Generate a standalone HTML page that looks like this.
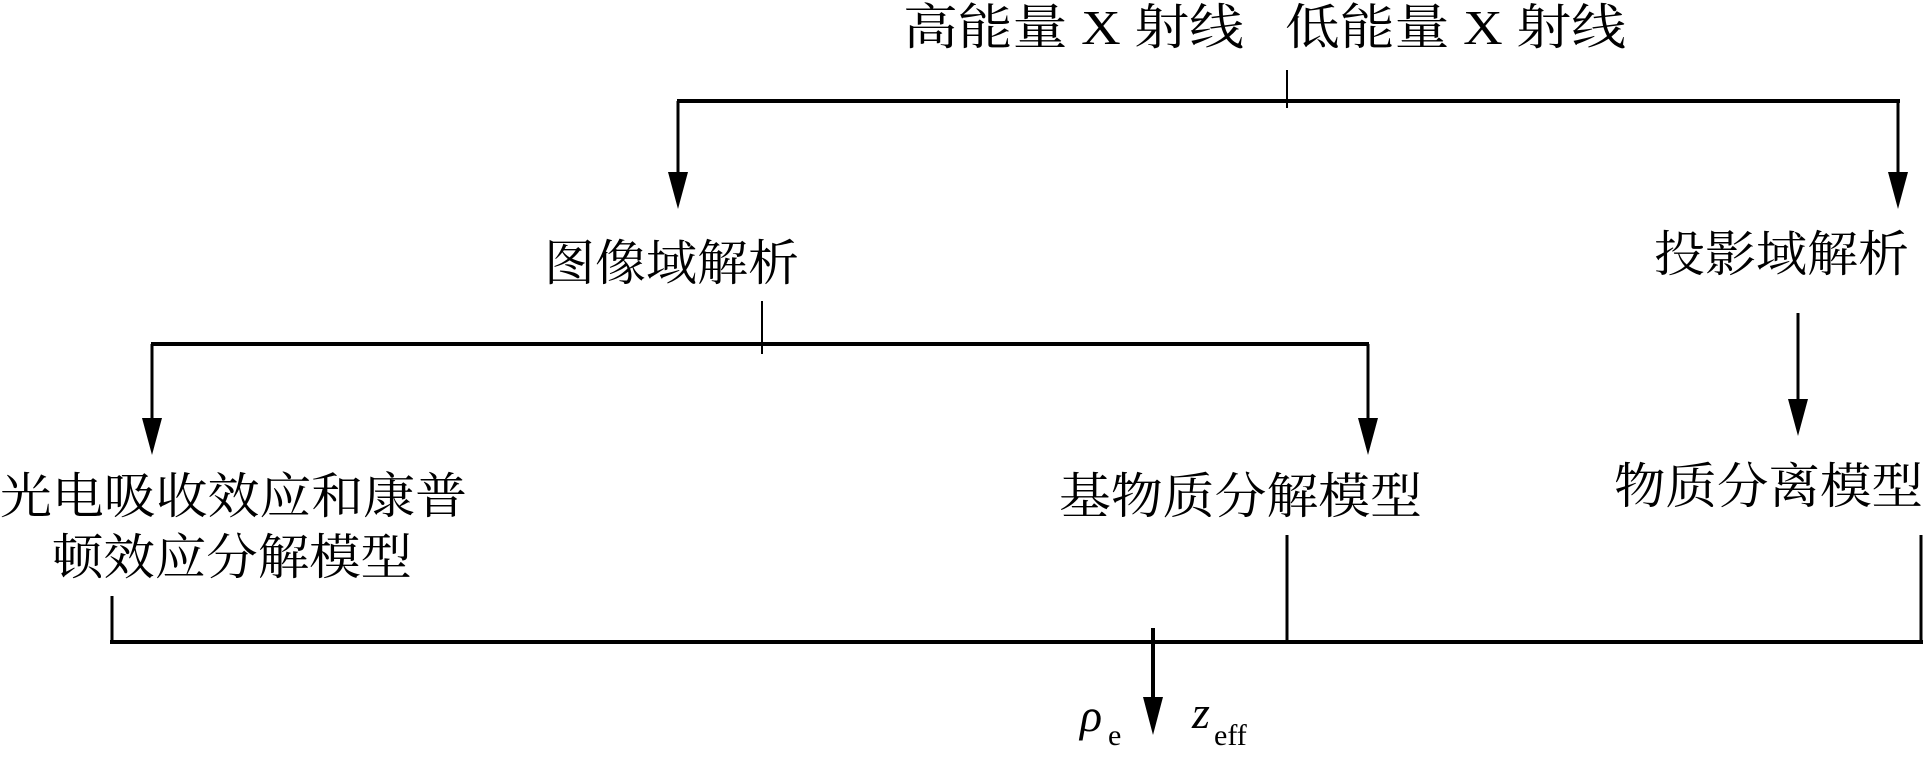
<!DOCTYPE html>
<html><head><meta charset="utf-8"><style>
html,body{margin:0;padding:0;background:#fff;}
svg{display:block;}
.t{font-family:"Liberation Serif","Noto Serif CJK SC","Noto Sans CJK SC",serif;font-size:49px;fill:#000;}
</style></head><body>
<svg width="1927" height="763" viewBox="0 0 1927 763" xmlns="http://www.w3.org/2000/svg">
<g stroke="#000" fill="none">
<line x1="1287" y1="70" x2="1287" y2="108" stroke-width="2"/>
<line x1="677" y1="101" x2="1900" y2="101" stroke-width="4"/>
<line x1="678" y1="101" x2="678" y2="175" stroke-width="3"/>
<line x1="1898" y1="101" x2="1898" y2="175" stroke-width="3"/>
<line x1="762" y1="301" x2="762" y2="354" stroke-width="2"/>
<line x1="151" y1="344" x2="1369" y2="344" stroke-width="4"/>
<line x1="152" y1="344" x2="152" y2="420" stroke-width="3"/>
<line x1="1368" y1="344" x2="1368" y2="420" stroke-width="3"/>
<line x1="1798" y1="313" x2="1798" y2="400" stroke-width="3"/>
<line x1="112" y1="596" x2="112" y2="643" stroke-width="3"/>
<line x1="1287" y1="535" x2="1287" y2="643" stroke-width="3"/>
<line x1="1921" y1="535" x2="1921" y2="643" stroke-width="3"/>
<line x1="110" y1="642" x2="1923" y2="642" stroke-width="4"/>
<line x1="1153" y1="628" x2="1153" y2="700" stroke-width="4"/>
</g>
<g fill="#000">
<polygon points="668,172 688,172 678,209"/>
<polygon points="1888,172 1908,172 1898,209"/>
<polygon points="142,418 162,418 152,455"/>
<polygon points="1358,418 1378,418 1368,455"/>
<polygon points="1788,399 1808,399 1798,436"/>
<polygon points="1143,697 1163,697 1153,735"/>
</g>
<text class="t" x="903" y="44" textLength="723" lengthAdjust="spacingAndGlyphs">高能量&#160;X&#160;射线&#160;&#160;&#160;低能量&#160;X&#160;射线</text>
<text class="t" x="544" y="280" textLength="255" lengthAdjust="spacingAndGlyphs">图像域解析</text>
<text class="t" x="1654" y="271" textLength="255" lengthAdjust="spacingAndGlyphs">投影域解析</text>
<text class="t" x="0" y="513" textLength="467" lengthAdjust="spacingAndGlyphs">光电吸收效应和康普</text>
<text class="t" x="52" y="574" textLength="360" lengthAdjust="spacingAndGlyphs">顿效应分解模型</text>
<text class="t" x="1059" y="513" textLength="363" lengthAdjust="spacingAndGlyphs">基物质分解模型</text>
<text class="t" x="1614" y="503" textLength="309" lengthAdjust="spacingAndGlyphs">物质分离模型</text>
<text x="1080" y="731" style="font-family:'Liberation Serif',serif;font-style:italic;font-size:46px">ρ</text>
<text x="1108" y="745" style="font-family:'Liberation Serif',serif;font-size:30px">e</text>
<text x="1192" y="728" style="font-family:'Liberation Serif',serif;font-style:italic;font-size:46px">z</text>
<text x="1214" y="745" style="font-family:'Liberation Serif',serif;font-size:30px">eff</text>
</svg>
</body></html>
